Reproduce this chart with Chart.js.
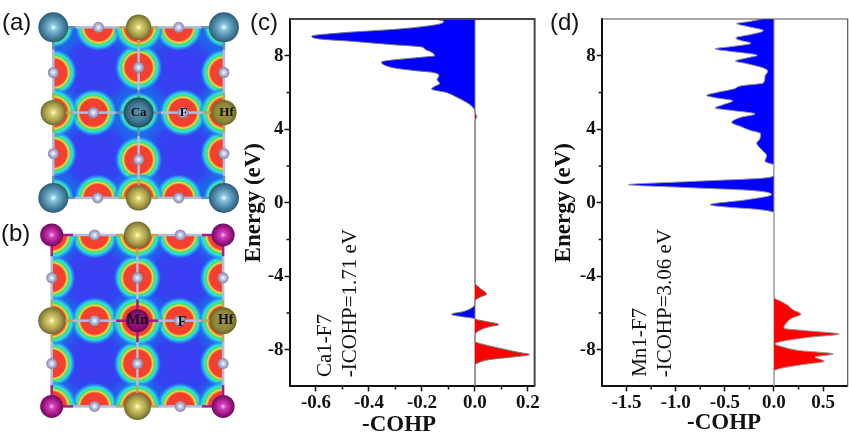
<!DOCTYPE html>
<html>
<head>
<meta charset="utf-8">
<script src="https://cdn.jsdelivr.net/npm/chart.js@4"></script>
<style>
  html, body { margin: 0; padding: 0; background: #fff; }
  body { width: 849px; height: 439px; position: relative; overflow: hidden; }
  .box { position: absolute; }
  .letter { position: absolute; font: 24px "Liberation Sans", sans-serif; color: #111; line-height: 28px; }
  .xt { position: absolute; font: bold 23px "Liberation Serif", serif; color: #111; line-height: 26px; white-space: nowrap; }
  .note { position: absolute; bottom: 62px; font: 21px "Liberation Serif", serif; color: #111; line-height: 24px; width: 24px;
          white-space: nowrap; writing-mode: vertical-rl; transform: rotate(180deg); }
</style>
</head>
<body>
<div class="box" style="left:0;top:0;width:245px;height:220px"><canvas id="mapA"></canvas></div>
<div class="box" style="left:0;top:215px;width:245px;height:224px"><canvas id="mapB"></canvas></div>
<div class="box" style="left:240px;top:0;width:300px;height:439px"><canvas id="chartC"></canvas></div>
<div class="box" style="left:550px;top:0;width:299px;height:439px"><canvas id="chartD"></canvas></div>

<div class="letter" style="left:2px;top:8px">(a)</div>
<div class="letter" style="left:1px;top:219px">(b)</div>
<div class="letter" style="left:250px;top:8px">(c)</div>
<div class="letter" style="left:550px;top:8px">(d)</div>
<div class="xt" style="left:362px;top:411px">-COHP</div>
<div class="xt" style="left:687px;top:409px">-COHP</div>
<div class="note" style="left:312px">Ca1-F7</div>
<div class="note" style="left:337px">-ICOHP=1.71 eV</div>
<div class="note" style="left:627px">Mn1-F7</div>
<div class="note" style="left:652px">-ICOHP=3.06 eV</div>

<script>
// -- panel (c) Ca1-F7 curves
const caBlueE = [-10, -6.32, -6.2, -6.07, -5.93, -5.75, -5.48, 4.9, 5.03, 5.28, 5.52, 5.75, 6.0, 6.19, 6.33, 6.48, 6.7, 6.91, 7.1, 7.2, 7.33, 7.51, 7.66, 7.79, 7.91, 8.0, 8.19, 8.37, 8.48, 8.6, 8.78, 8.91, 9.06, 9.24, 9.46, 9.69, 9.87, 10];
const caBlueV = [0, 0, -0.051, -0.089, -0.045, -0.014, 0, 0, -0.001, -0.014, -0.039, -0.07, -0.108, -0.164, -0.152, -0.133, -0.143, -0.136, -0.164, -0.234, -0.303, -0.344, -0.353, -0.296, -0.208, -0.152, -0.164, -0.19, -0.202, -0.309, -0.46, -0.585, -0.616, -0.51, -0.284, -0.146, -0.118, -0.152];
const caRedE = [-10, -8.86, -8.72, -8.54, -8.4, -8.27, -8.14, -7.96, -7.73, -7.55, -7.23, -7.0, -6.77, -6.63, -6.47, -6.32, -5.35, -5.15, -4.97, -4.67, -4.36, 4.4, 4.7, 4.95, 10];
const caRedV = [0, 0, 0.011, 0.055, 0.143, 0.206, 0.162, 0.105, 0.036, 0, 0, 0.011, 0.049, 0.09, 0.043, 0, 0, 0.018, 0.044, 0.02, 0, 0, 0.006, 0, 0];

// -- panel (d) Mn1-F7 curves
const mnBlueE = [-10, -0.56, -0.38, -0.24, -0.11, 0.16, 0.44, 0.67, 0.83, 0.98, 1.16, 1.34, 1.5, 2.03, 2.25, 2.56, 2.79, 3.07, 3.25, 3.43, 3.76, 3.94, 4.16, 4.37, 4.66, 4.83, 5.03, 5.15, 5.34, 5.55, 5.7, 5.84, 6.0, 6.19, 6.37, 6.52, 6.88, 7.15, 7.33, 7.57, 7.71, 7.88, 8.02, 8.24, 8.37, 8.51, 8.68, 8.84, 8.97, 9.15, 9.36, 9.6, 9.75, 9.87, 10];
const mnBlueV = [0, 0, -0.14, -0.48, -0.65, -0.278, -0.024, -0.244, -0.92, -1.48, -0.82, -0.108, -0.005, 0, -0.092, -0.075, -0.108, -0.159, -0.176, -0.149, -0.136, -0.244, -0.346, -0.43, -0.329, -0.193, -0.447, -0.6, -0.515, -0.42, -0.583, -0.685, -0.583, -0.414, -0.329, -0.108, -0.092, -0.064, -0.108, -0.278, -0.393, -0.278, -0.17, -0.447, -0.6, -0.414, -0.234, -0.346, -0.39, -0.244, -0.108, -0.278, -0.38, -0.244, -0.125];
const mnRedE = [-10, -9.17, -8.99, -8.81, -8.63, -8.4, -8.23, -8.04, -7.86, -7.68, -7.5, -7.32, -7.15, -6.97, -6.83, -6.65, -6.29, -6.07, -5.84, -5.57, -5.39, -5.15, 10];
const mnRedV = [0, 0, 0.095, 0.298, 0.512, 0.417, 0.603, 0.247, 0.095, 0.01, 0.129, 0.366, 0.664, 0.332, 0.1, 0.112, 0.18, 0.275, 0.197, 0.136, 0.078, 0, 0];

// -- tick labels
const energyTicks = [-8, -4, 0, 4, 8];
const energyMinor = [-6, -2, 2, 6];
const caCohpTicks = [-0.6, -0.4, -0.2, 0, 0.2];
const caCohpMinor = [-0.5, -0.3, -0.1, 0.1];
const mnCohpTicks = [-1.5, -1, -0.5, 0, 0.5];
const mnCohpMinor = [-1.25, -0.75, -0.25, 0.25];

// -- lattice sites of the two maps, in cell units
const fSitesA = [[0.53, 0], [1.47, 0], [0, 0.53], [2, 0.53], [0.47, 1], [1.52, 1], [1, 0.47], [1, 1.55], [0, 1.48], [2, 1.48], [0.52, 2], [1.47, 2]];
const fSitesB = [[0.5, 0], [1.5, 0], [0, 0.5], [2, 0.5], [0.5, 1], [1.49, 1], [1, 0.5], [1, 1.5], [0, 1.5], [2, 1.5], [0.5, 2], [1.5, 2]];
const cornerSites = [[0, 0], [2, 0], [0, 2], [2, 2]];
const centerSite = [[1, 1]];
const hfSites = [[1, 0], [0, 1], [1, 2]];
const hfLabelSite = [[2, 1]];
const labelsA = [["Ca", 1, 1], ["F", 1.53, 1], ["Hf", 2.03, 1]];
const labelsB = [["Mn", 1, 1], ["F", 1.52, 1.02], ["Hf", 2.03, 1]];

const SERIF = '"Liberation Serif", serif';
const pts = (list) => list.map((p) => ({ x: p[0], y: p[1] }));
const curve = (e, v) => e.map((y, i) => ({ x: v[i], y: y }));

// minor ticks and the top/right frame
const framePlugin = {
  id: "frame",
  afterDraw(chart, args, opts) {
    const { ctx, chartArea: a, scales } = chart;
    ctx.save();
    ctx.strokeStyle = opts.edge;
    ctx.lineWidth = opts.edgeWidth;
    ctx.beginPath();
    ctx.moveTo(a.left, a.top);
    ctx.lineTo(a.right, a.top);
    ctx.lineTo(a.right, a.bottom);
    ctx.stroke();
    ctx.strokeStyle = "#111";
    ctx.lineWidth = 1.5;
    ctx.beginPath();
    opts.minorX.forEach((v) => {
      const x = scales.x.getPixelForValue(v);
      ctx.moveTo(x, a.bottom);
      ctx.lineTo(x, a.bottom + 3);
    });
    opts.minorY.forEach((v) => {
      const y = scales.y.getPixelForValue(v);
      ctx.moveTo(a.left, y);
      ctx.lineTo(a.left - 3, y);
    });
    ctx.stroke();
    ctx.restore();
  },
};

function cohpChart(id, cfg) {
  new Chart(document.getElementById(id), {
    type: "line",
    data: {
      datasets: [
        { data: curve(cfg.redE, cfg.redV), borderColor: cfg.lineColor, borderWidth: cfg.lineWidth, backgroundColor: "#ff0000", fill: { value: 0 }, pointRadius: 0, cubicInterpolationMode: "monotone" },
        { data: curve(cfg.blueE, cfg.blueV), borderColor: cfg.lineColor, borderWidth: cfg.lineWidth, backgroundColor: "#0000ff", fill: { value: 0 }, pointRadius: 0, cubicInterpolationMode: "monotone" },
      ],
    },
    options: {
      indexAxis: "y",
      responsive: true,
      maintainAspectRatio: false,
      animation: false,
      layout: { padding: { top: 19, right: cfg.padRight, left: 0, bottom: 0 } },
      plugins: {
        legend: { display: false },
        tooltip: { enabled: false },
        frame: { edge: cfg.edge, edgeWidth: cfg.edgeWidth, minorX: cfg.minorX, minorY: energyMinor },
      },
      scales: {
        x: {
          type: "linear",
          min: cfg.xMin,
          max: cfg.xMax,
          afterFit: (s) => (s.height = 52.6),
          afterBuildTicks: (s) => (s.ticks = cfg.xTicks.map((v) => ({ value: v }))),
          grid: { drawOnChartArea: false, tickLength: 5, tickColor: "#111", tickWidth: 1.5 },
          border: { color: "#111", width: 2 },
          ticks: { autoSkip: false, maxRotation: 0, padding: 0, color: "#111", font: { family: SERIF, size: 19, weight: "bold" }, callback: (v) => v.toFixed(1) },
        },
        y: {
          type: "linear",
          min: -10,
          max: 10,
          afterFit: (s) => (s.width = cfg.yWidth),
          afterBuildTicks: (s) => (s.ticks = energyTicks.map((v) => ({ value: v }))),
          title: { display: true, text: "Energy (eV)", color: "#111", padding: { top: 0, bottom: 0 }, font: { family: SERIF, size: 23, weight: "bold" } },
          grid: { drawOnChartArea: false, tickLength: 5, tickColor: "#111", tickWidth: 1.5 },
          border: { color: "#111", width: 2 },
          ticks: { autoSkip: false, padding: 1, color: "#111", font: { family: SERIF, size: 19, weight: "bold" }, callback: (v) => String(v) },
        },
      },
    },
    plugins: [framePlugin],
  });
}

cohpChart("chartC", {
  blueE: caBlueE, blueV: caBlueV, redE: caRedE, redV: caRedV,
  xMin: -0.7, xMax: 0.225, xTicks: caCohpTicks, minorX: caCohpMinor,
  yWidth: 49.5, padRight: 5, edge: "#444", edgeWidth: 2, lineColor: "#777", lineWidth: 1,
});
cohpChart("chartD", {
  blueE: mnBlueE, blueV: mnBlueV, redE: mnRedE, redV: mnRedV,
  xMin: -1.753, xMax: 0.75, xTicks: mnCohpTicks, minorX: mnCohpMinor,
  yWidth: 51.7, padRight: 1.3, edge: "#555", edgeWidth: 1.2, lineColor: "#999", lineWidth: 1,
});

// -- density maps: filled halos under the atoms, drawn from the same sites
function halo(ctx, x, y, r, stops) {
  const g = ctx.createRadialGradient(x, y, 0, x, y, r);
  stops.forEach((s) => g.addColorStop(s[0], s[1]));
  ctx.fillStyle = g;
  ctx.beginPath();
  ctx.arc(x, y, r, 0, Math.PI * 2);
  ctx.fill();
}
const HALO = [[0, "#f5402f"], [0.56, "#f5402f"], [0.64, "#f2d84a"], [0.71, "#45e06a"], [0.8, "#2fe0e0"], [0.9, "rgba(40,150,240,0.8)"], [1, "rgba(40,90,240,0)"]];

const mapPlugin = {
  id: "densityMap",
  beforeDatasetsDraw(chart, args, o) {
    const { ctx, scales } = chart;
    const X = (v) => scales.x.getPixelForValue(v);
    const Y = (v) => scales.y.getPixelForValue(v);
    const x0 = X(0), y0 = Y(0), side = X(2) - X(0);
    ctx.save();
    ctx.beginPath();
    ctx.rect(x0, y0, side, side);
    ctx.clip();
    ctx.fillStyle = "#1f66ea";
    ctx.fillRect(x0, y0, side, side);
    [[0.5, 0.5], [1.5, 0.5], [0.5, 1.5], [1.5, 1.5]].forEach((c) => {
      const g = ctx.createRadialGradient(X(c[0]), Y(c[1]), 8, X(c[0]), Y(c[1]), 42);
      g.addColorStop(0, "#3b3cf3");
      g.addColorStop(0.6, "#3344f0");
      g.addColorStop(1, "rgba(31,102,234,0)");
      ctx.fillStyle = g;
      ctx.fillRect(x0, y0, side, side);
    });
    o.fSites.forEach((s) => halo(ctx, X(s[0]), Y(s[1]), 24, HALO));
    hfSites.concat(hfLabelSite).forEach((s) => halo(ctx, X(s[0]), Y(s[1]), 25, HALO));
    cornerSites.forEach((s) => halo(ctx, X(s[0]), Y(s[1]), o.metalHalo, HALO));
    centerSite.forEach((s) => halo(ctx, X(s[0]), Y(s[1]), o.metalHalo, HALO));
    ctx.restore();

    // bonds, half coloured by the atom they touch
    ctx.save();
    ctx.lineWidth = 2.5;
    const seg = (a, b, col) => {
      ctx.strokeStyle = col;
      ctx.beginPath();
      ctx.moveTo(X(a[0]), Y(a[1]));
      ctx.lineTo(X(b[0]), Y(b[1]));
      ctx.stroke();
    };
    o.fSites.forEach((f) => {
      const flat = Math.abs(f[1] - Math.round(f[1])) < 0.1;
      const ends = flat ? [[Math.floor(f[0]), Math.round(f[1])], [Math.ceil(f[0]), Math.round(f[1])]]
                        : [[Math.round(f[0]), Math.floor(f[1])], [Math.round(f[0]), Math.ceil(f[1])]];
      ends.forEach((m) => {
        const mid = [(m[0] + f[0]) / 2, (m[1] + f[1]) / 2];
        seg(m, mid, (m[0] + m[1]) % 2 === 0 ? o.bond : "#b5aa55");
        seg(mid, f, "#b6badb");
      });
    });
    ctx.restore();
  },
  afterDatasetsDraw(chart, args, o) {
    const { ctx, scales } = chart;
    ctx.save();
    ctx.fillStyle = "#111";
    ctx.textAlign = "center";
    ctx.textBaseline = "middle";
    ctx.font = 'bold ' + o.labelSize + 'px ' + SERIF;
    o.labels.forEach((l) => ctx.fillText(l[0], scales.x.getPixelForValue(l[1]), scales.y.getPixelForValue(l[2])));
    ctx.restore();
  },
};

// shaded ball: scriptable fill placed on the point through the scales
function ball(stops) {
  return (c) => {
    if (!c.raw) return stops[1][1];
    const x = c.chart.scales.x.getPixelForValue(c.raw.x);
    const y = c.chart.scales.y.getPixelForValue(c.raw.y);
    const r = c.dataset.pointRadius;
    if (!isFinite(x) || !isFinite(y)) return stops[1][1];
    const g = c.chart.ctx.createRadialGradient(x, y, 0, x, y, r);
    stops.forEach((s) => g.addColorStop(s[0], s[1]));
    return g;
  };
}
const CA_BALL = [[0, "#f4ffff"], [0.22, "#86c3dc"], [0.65, "#4d88a8"], [1, "#2d5c78"]];
const CA_FLAT = [[0, "#5d93ae"], [0.6, "#437a98"], [1, "#1f4a64"]];
const MN_BALL = [[0, "#ffc0f0"], [0.25, "#d040b4"], [0.7, "#a01488"], [1, "#6a0e5c"]];
const MN_FLAT = [[0, "#9c1686"], [0.7, "#8a0f78"], [1, "#5a0a50"]];
const HF_BALL = [[0, "#fffde0"], [0.25, "#d8cd6c"], [0.7, "#a39a48"], [1, "#6e692e"]];
const HF_FLAT = [[0, "#a09848"], [0.7, "#8f8838"], [1, "#6a6528"]];
const F_BALL = [[0, "#ffffff"], [0.4, "#c4c8e4"], [1, "#8186ae"]];

function atomSet(sites, radius, stops) {
  return { data: pts(sites), pointRadius: radius, backgroundColor: ball(stops), borderWidth: 0, pointBorderWidth: 0, showLine: false, clip: false };
}

function mapChart(id, cfg) {
  new Chart(document.getElementById(id), {
    type: "scatter",
    data: {
      datasets: [
        atomSet(cfg.fSites, 5.5, F_BALL),
        atomSet(hfSites, cfg.hfR, HF_BALL),
        atomSet(hfLabelSite, cfg.hfR, HF_FLAT),
        atomSet(cornerSites, cfg.metalR, cfg.ball),
        atomSet(centerSite, cfg.metalR, cfg.flat),
      ],
    },
    options: {
      responsive: true,
      maintainAspectRatio: false,
      animation: false,
      layout: { padding: 0, autoPadding: false },
      plugins: {
        legend: { display: false },
        tooltip: { enabled: false },
        densityMap: { fSites: cfg.fSites, bond: cfg.bond, metalHalo: cfg.metalHalo, labels: cfg.labels, labelSize: cfg.labelSize },
      },
      scales: {
        x: { type: "linear", display: false, min: cfg.xMin, max: cfg.xMax },
        y: { type: "linear", display: false, reverse: true, min: cfg.yMin, max: cfg.yMax },
      },
    },
    plugins: [mapPlugin],
  });
}

mapChart("mapA", {
  fSites: fSitesA, labels: labelsA, ball: CA_BALL, flat: CA_FLAT, bond: "#5b93b0",
  metalR: 15, hfR: 12.7, metalHalo: 21, labelSize: 13,
  xMin: -0.625, xMax: 2.247, yMin: -0.32, yMax: 2.259,
});
mapChart("mapB", {
  fSites: fSitesB, labels: labelsB, ball: MN_BALL, flat: MN_FLAT, bond: "#a8188e",
  metalR: 11.5, hfR: 13.5, metalHalo: 26, labelSize: 14,
  xMin: -0.603, xMax: 2.255, yMin: -0.233, yMax: 2.38,
});
</script>
</body>
</html>
